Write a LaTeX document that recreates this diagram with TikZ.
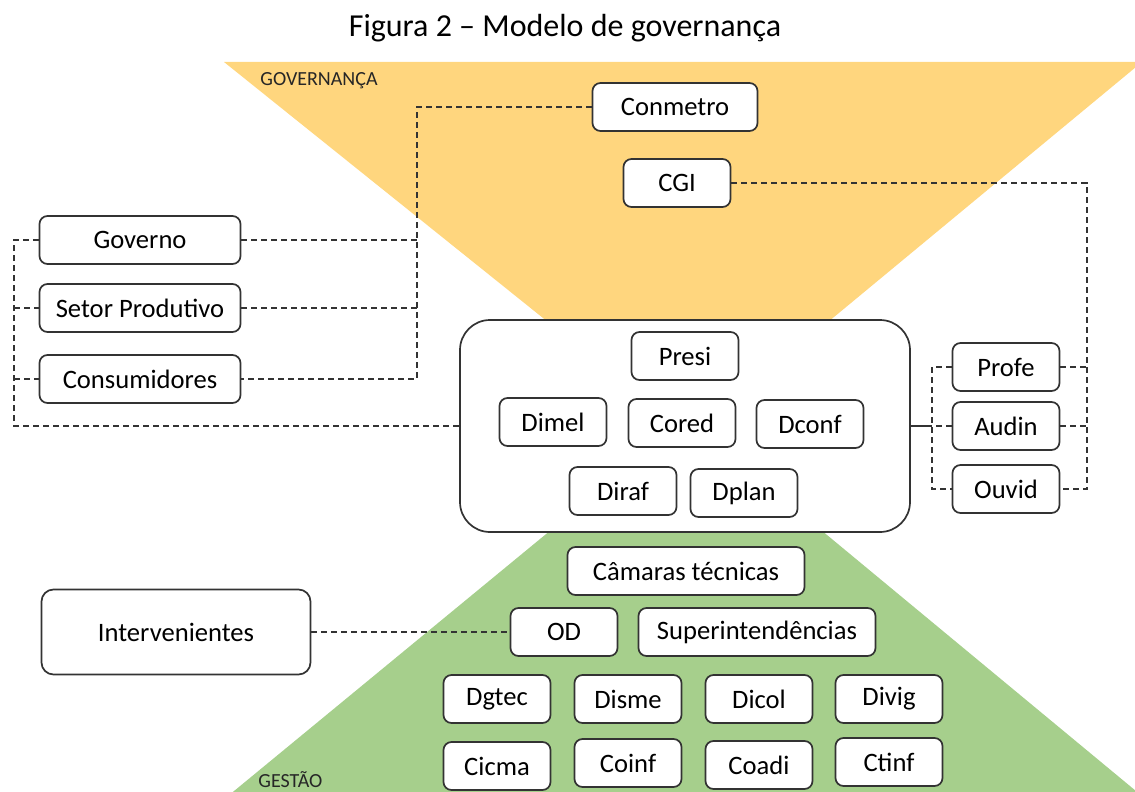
\documentclass[tikz,border=0pt]{standalone}
\usepackage{fontspec}
\setmainfont{Carlito}
\usepackage{xcolor}
\usetikzlibrary{positioning,calc}
\definecolor{gold}{HTML}{FFD67E}
\definecolor{leaf}{HTML}{A6CF8C}
\definecolor{ink}{HTML}{333333}

\begin{document}
\begin{tikzpicture}[x=0.5pt, y=-0.5pt,
  unit/.style={draw=ink, line width=0.85pt, fill=white, rounded corners=4pt, minimum width=53.5pt, minimum height=24pt, inner sep=0pt, text=black, font=\fontsize{13.3}{15}\selectfont},
  link/.style={draw=ink, line width=0.85pt, dash pattern=on 3pt off 2pt},
  tag/.style={anchor=west, inner sep=0pt, text=black!85, font=\fontsize{10}{12}\selectfont}]
\useasboundingbox (0,0) rectangle (1135,792);
% the two bands
\begin{scope}
  \clip (0,0) rectangle (1135,792);
  \fill[gold] (224,62) -- (1142,62) -- (828,322) -- (548,322) -- cycle;
  \fill[leaf] (551,530) -- (821,530) -- (1142,796) -- (228,796) -- cycle;
\end{scope}
\node[font=\fontsize{16}{19}\selectfont] (title) at (565,28) {Figura 2 – Modelo de governança};
\node[tag] (govlbl) at (260,81) {GOVERNANÇA};
\node[tag] (gestlbl) at (258,780) {GESTÃO};

\node[unit, minimum width=82.5pt] (conmetro) at (675,107) {Conmetro};
\node[unit] (cgi) at (677,183) {CGI};
\node[unit, minimum width=100.5pt] (gov) at (140,240) {Governo};
\node[unit, minimum width=100.5pt] (setor) at (140,308) {Setor Produtivo};
\node[unit, minimum width=100.5pt] (cons) at (140,379) {Consumidores};

\node[unit, minimum width=225pt, minimum height=106pt, rounded corners=15pt] (core) at (685,426) {};
\node[unit] (presi) at (685,356) {Presi};
\node[unit] (dimel) at (553,422) {Dimel};
\node[unit] (cored) at (682,423) {Cored};
\node[unit] (dconf) at (810,424) {Dconf};
\node[unit] (diraf) at (623,491) {Diraf};
\node[unit] (dplan) at (744,493) {Dplan};

\node[unit] (profe) at (1006,367) {Profe};
\node[unit] (audin) at (1006,426) {Audin};
\node[unit] (ouvid) at (1006,489) {Ouvid};

\node[unit, minimum width=118.5pt] (camaras) at (686,571) {Câmaras técnicas};
\node[unit] (od) at (564,632) {OD};
\node[unit, minimum width=118.5pt] (super) at (757,632) {Superintendências};
\node[unit, minimum width=134.5pt, minimum height=42.5pt, rounded corners=6pt] (interv) at (176,632) {Intervenientes};
\node[unit] (dgtec) at (497,699) {Dgtec};
\node[unit] (disme) at (628,699) {Disme};
\node[unit] (dicol) at (759,699) {Dicol};
\node[unit] (divig) at (889,699) {Divig};
\node[unit] (cicma) at (497,766) {Cicma};
\node[unit] (coinf) at (628,763) {Coinf};
\node[unit] (coadi) at (759,765) {Coadi};
\node[unit] (ctinf) at (889,762) {Ctinf};

% buses
\coordinate (lbus) at (14,0);
\coordinate (rbus) at (417,0);
\coordinate (ibus) at (932,0);
\coordinate (obus) at (1087,0);

\draw[link] (core.west) -- (core.west -| lbus) |- (gov.west);
\draw[link] (setor.west -| lbus) -- (setor.west);
\draw[link] (cons.west -| lbus) -- (cons.west);
\draw[link] (conmetro.west) -| (rbus |- cons.east) -- (cons.east);
\draw[link] (gov.east) -- (gov.east -| rbus);
\draw[link] (setor.east) -- (setor.east -| rbus);
\draw[draw=ink, line width=0.85pt] (core.east) -- (core.east -| ibus);
\draw[link] (profe.west) -| (ibus |- ouvid.west) -- (ouvid.west);
\draw[link] (audin.west) -- (audin.west -| ibus);
\draw[link] (cgi.east) -| (obus |- ouvid.east) -- (ouvid.east);
\draw[link] (profe.east) -- (profe.east -| obus);
\draw[link] (audin.east) -- (audin.east -| obus);
\draw[link] (interv.east) -- (od.west);
\end{tikzpicture}
\end{document}
